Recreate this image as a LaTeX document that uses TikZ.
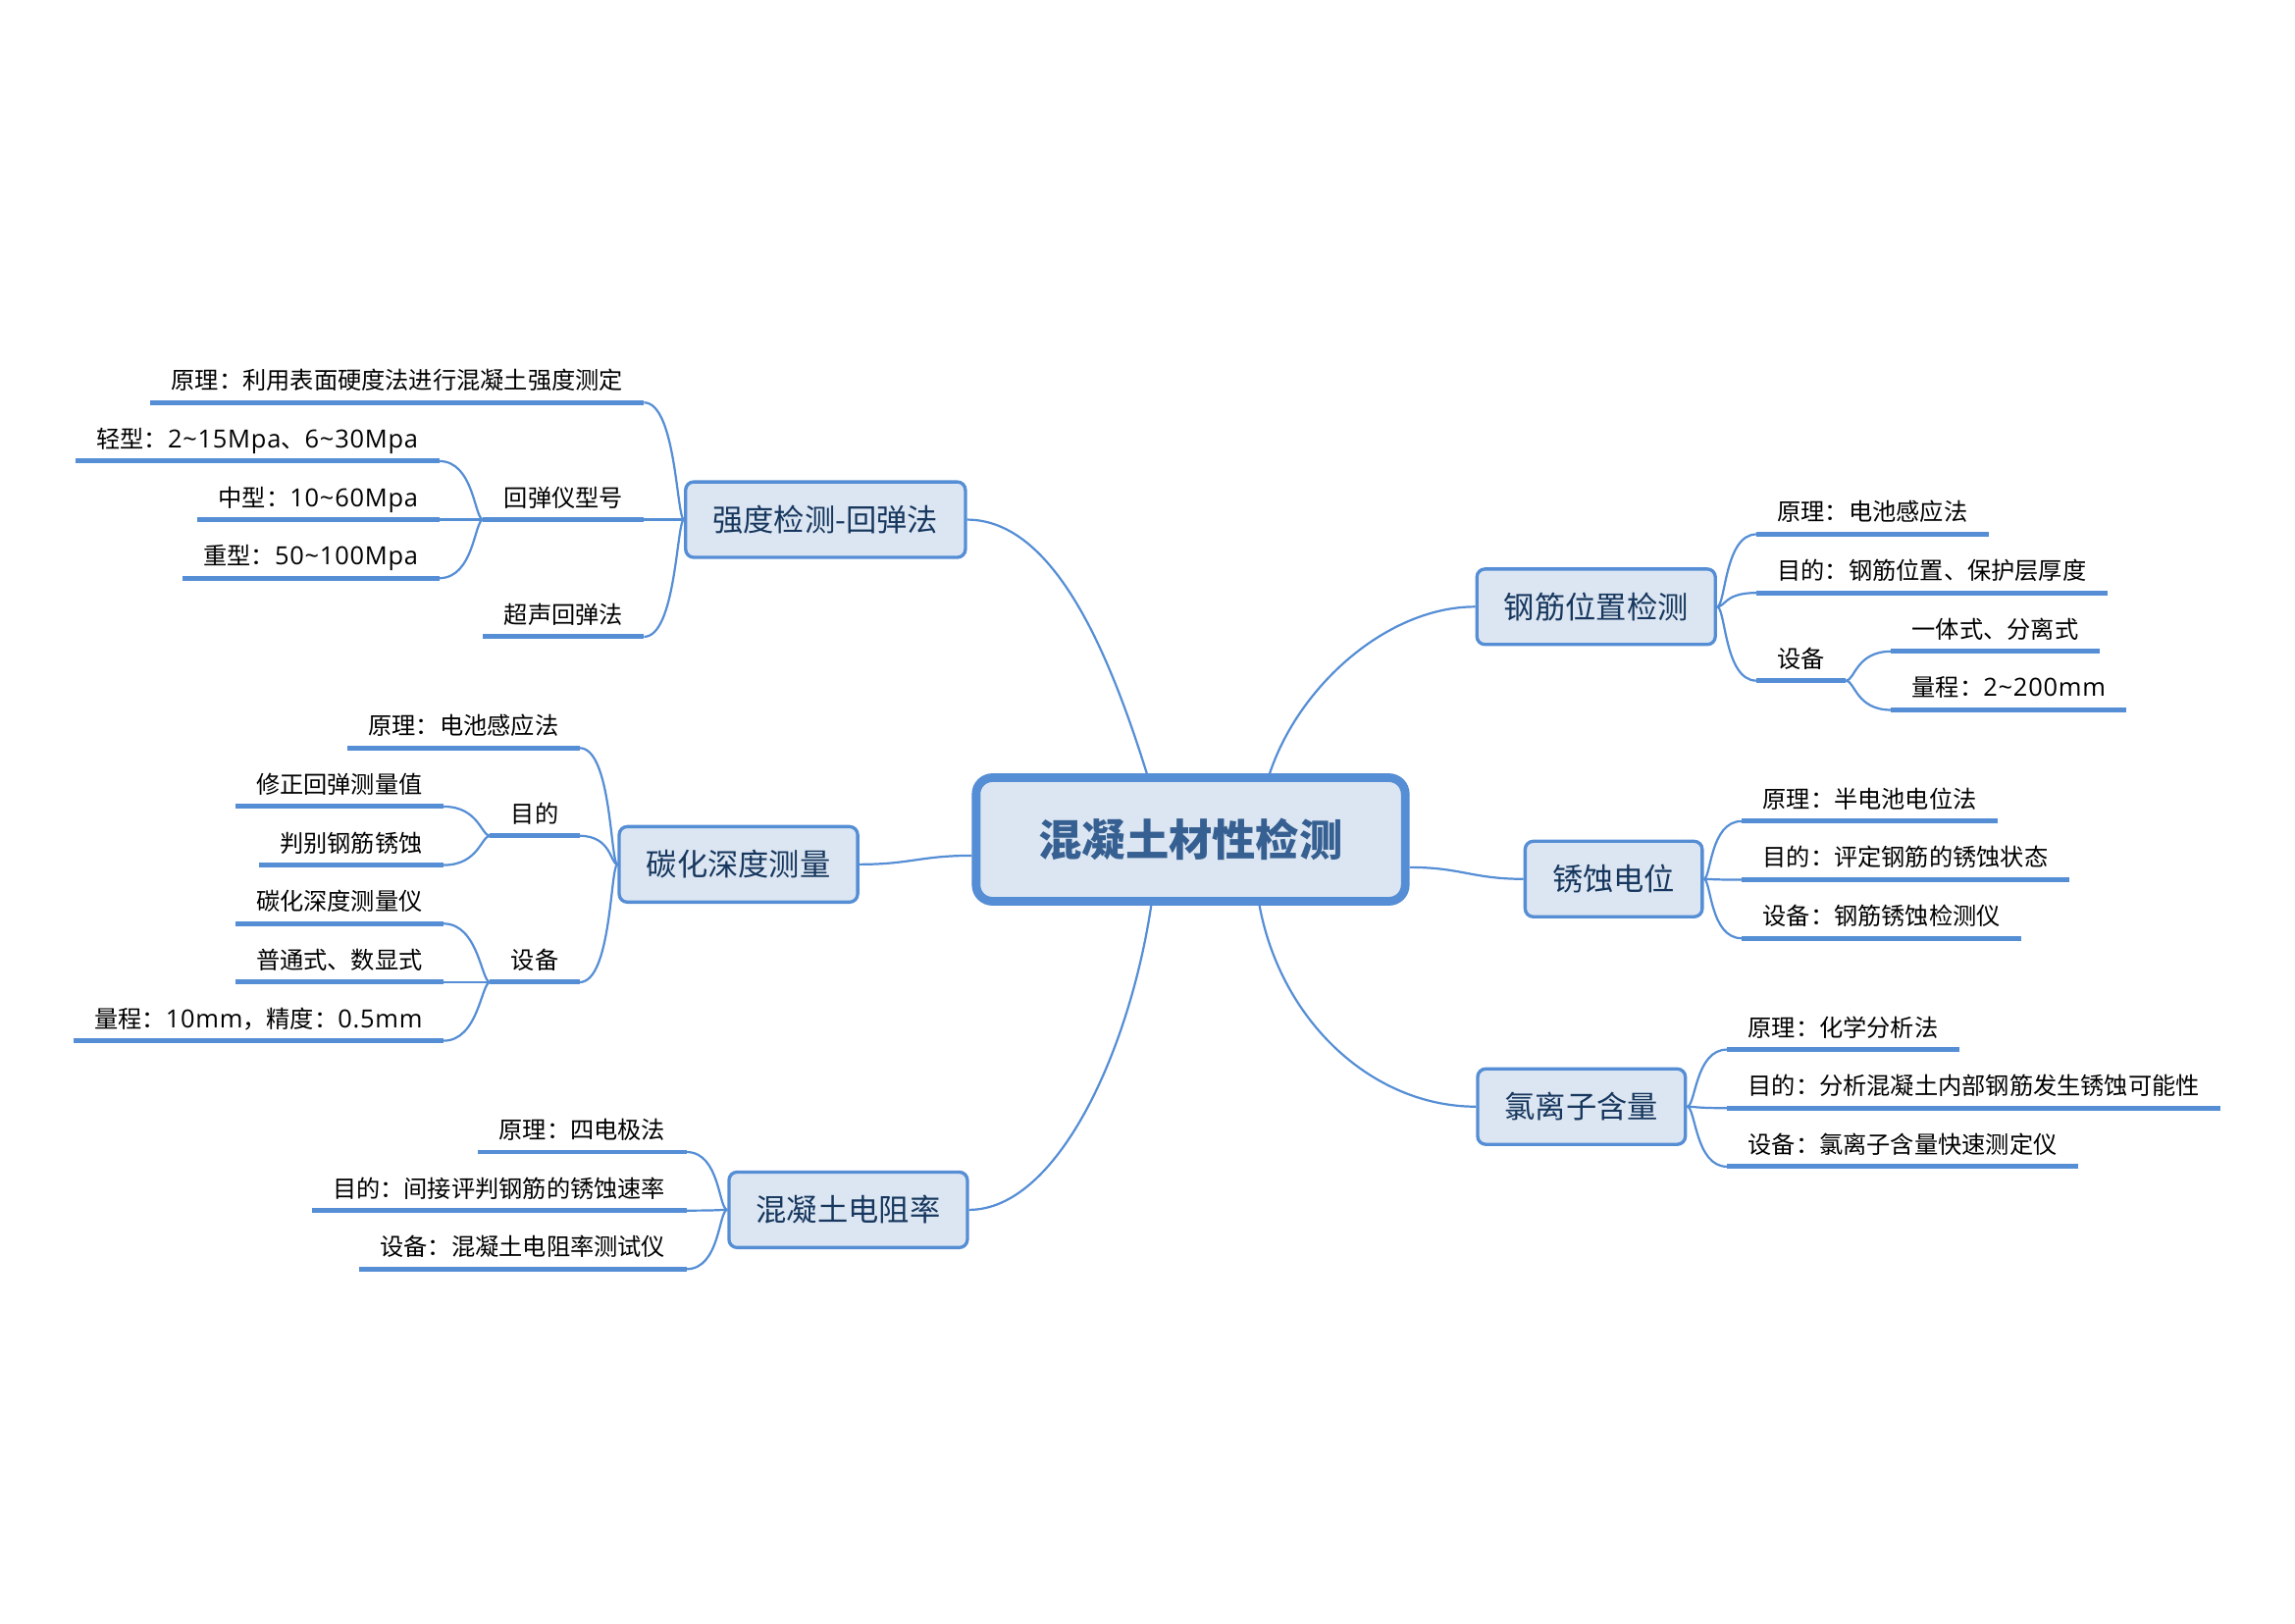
\documentclass[tikz,border=0pt]{standalone}
\usepackage{fontspec}
\setmainfont{Noto Sans CJK SC}
\newfontfamily\lat{Open Sans}[Scale=1.05, LetterSpace=3]
\usepackage{xcolor}
\usetikzlibrary{calc}
\definecolor{lnb}{HTML}{558ED5}
\definecolor{bxf}{HTML}{DCE6F2}
\definecolor{ttl}{HTML}{376092}
\definecolor{brt}{HTML}{17375E}

\begin{document}
\begin{tikzpicture}[x=0.18941mm, y=0.18941mm,
    link/.style={draw=lnb, line width=0.8pt},
    uline/.style={draw=lnb, line width=1.8pt},
    root/.style={draw=lnb, fill=bxf, line width=3.2pt, rounded corners=6pt,
      minimum width=158pt, minimum height=45.5pt, text=ttl,
      font=\fontsize{16}{19}\selectfont\bfseries, text height=14pt, text depth=2pt},
    topic/.style={draw=lnb, fill=bxf, line width=1.2pt, rounded corners=3pt,
      minimum height=27.8pt, inner xsep=10pt, text=brt,
      font=\fontsize{11.3}{13}\selectfont, text height=9.9pt, text depth=1.4pt},
    leaf/.style={inner xsep=2.65mm, inner ysep=3.6pt, text height=7.7pt, text depth=1.1pt,
      font=\fontsize{8.75}{10}\selectfont}]
  \useasboundingbox (0,0) rectangle (1568,-1109);

  \node[root] (ctr) at (813.5,-573.5) {混凝土材性检测};
  \node[topic] (A) at (564,-355) {强度检测-回弹法};
  \node[topic] (B) at (504.5,-590.5) {碳化深度测量};
  \node[topic] (C) at (579.5,-826.5) {混凝土电阻率};
  \node[topic] (D) at (1090.5,-414.5) {钢筋位置检测};
  \node[topic] (E) at (1102.5,-600.5) {锈蚀电位};
  \node[topic] (F) at (1080.5,-756) {氯离子含量};

  % main branches out of the centre box
  \draw[link] ($(ctr.north)+(-30,0)$) .. controls +(-25,80) and +(60,0) .. (A.east);
  \draw[link] ($(ctr.west)+(0,-11)$) .. controls +(-35,0) and +(35,0) .. (B.east);
  \draw[link] ($(ctr.south)+(-27,0)$) .. controls +(-15,-100) and +(60,0) .. (C.east);
  \draw[link] ($(ctr.north)+(54,0)$) .. controls +(20,60) and +(-60,0) .. (D.west);
  \draw[link] ($(ctr.east)+(0,-19)$) .. controls +(35,0) and +(-35,0) .. (E.west);
  \draw[link] ($(ctr.south)+(47,0)$) .. controls +(15,-80) and +(-70,0) .. (F.west);

  % A: rebound hammer
  \node[leaf, anchor=south east] (a1) at (440,-275) {原理：利用表面硬度法进行混凝土强度测定};
  \node[leaf, anchor=south east] (a2) at (440,-355) {回弹仪型号};
  \node[leaf, anchor=south east] (a3) at (440,-435) {超声回弹法};
  \node[leaf, anchor=south east] (a21) at (300,-315) {轻型：{\lat 2\textasciitilde15Mpa}、{\lat 6\textasciitilde30Mpa}};
  \node[leaf, anchor=south east] (a22) at (300,-355) {中型：{\lat 10\textasciitilde60Mpa}};
  \node[leaf, anchor=south east] (a23) at (300,-395) {重型：{\lat 50\textasciitilde100Mpa}};
  \foreach \n in {a1,a2,a3}
    \draw[link] (A.west) .. controls +(-5,0) and +(22,0) .. (\n.south east);
  \foreach \n in {a21,a22,a23}
    \draw[link] (a2.south west) .. controls +(-6,0) and +(24,0) .. (\n.south east);

  % B: carbonation depth
  \node[leaf, anchor=south east] (b1) at (396,-511) {原理：电池感应法};
  \node[leaf, anchor=south east] (b2) at (396,-571) {目的};
  \node[leaf, anchor=south east] (b3) at (396,-671) {设备};
  \node[leaf, anchor=south east] (b21) at (303,-551) {修正回弹测量值};
  \node[leaf, anchor=south east] (b22) at (303,-591) {判别钢筋锈蚀};
  \node[leaf, anchor=south east] (b31) at (303,-631) {碳化深度测量仪};
  \node[leaf, anchor=south east] (b32) at (303,-671) {普通式、数显式};
  \node[leaf, anchor=south east] (b33) at (303,-711) {量程：{\lat 10mm}，精度：{\lat 0.5mm}};
  \foreach \n in {b1,b2,b3}
    \draw[link] (B.west) .. controls +(-5,0) and +(22,0) .. (\n.south east);
  \foreach \n in {b21,b22}
    \draw[link] (b2.south west) .. controls +(-6,0) and +(24,0) .. (\n.south east);
  \foreach \n in {b31,b32,b33}
    \draw[link] (b3.south west) .. controls +(-6,0) and +(24,0) .. (\n.south east);

  % C: resistivity
  \node[leaf, anchor=south east] (c1) at (469,-787) {原理：四电极法};
  \node[leaf, anchor=south east] (c2) at (469,-827) {目的：间接评判钢筋的锈蚀速率};
  \node[leaf, anchor=south east] (c3) at (469,-867) {设备：混凝土电阻率测试仪};
  \foreach \n in {c1,c2,c3}
    \draw[link] (C.west) .. controls +(-6,0) and +(23,0) .. (\n.south east);

  % D: rebar location
  \node[leaf, anchor=south west] (d1) at (1200,-365) {原理：电池感应法};
  \node[leaf, anchor=south west] (d2) at (1200,-405) {目的：钢筋位置、保护层厚度};
  \node[leaf, anchor=south west] (d3) at (1200,-465) {设备};
  \node[leaf, anchor=south west] (d31) at (1292,-445) {一体式、分离式};
  \node[leaf, anchor=south west] (d32) at (1292,-485) {量程：{\lat 2\textasciitilde200mm}};
  \foreach \n in {d1,d2,d3}
    \draw[link] (D.east) .. controls +(6,0) and +(-22,0) .. (\n.south west);
  \foreach \n in {d31,d32}
    \draw[link] (d3.south east) .. controls +(6,0) and +(-24,0) .. (\n.south west);

  % E: corrosion potential
  \node[leaf, anchor=south west] (e1) at (1190,-561) {原理：半电池电位法};
  \node[leaf, anchor=south west] (e2) at (1190,-601) {目的：评定钢筋的锈蚀状态};
  \node[leaf, anchor=south west] (e3) at (1190,-641) {设备：钢筋锈蚀检测仪};
  \foreach \n in {e1,e2,e3}
    \draw[link] (E.east) .. controls +(5,0) and +(-22,0) .. (\n.south west);

  % F: chloride content
  \node[leaf, anchor=south west] (f1) at (1180,-717) {原理：化学分析法};
  \node[leaf, anchor=south west] (f2) at (1180,-757) {目的：分析混凝土内部钢筋发生锈蚀可能性};
  \node[leaf, anchor=south west] (f3) at (1180,-797) {设备：氯离子含量快速测定仪};
  \foreach \n in {f1,f2,f3}
    \draw[link] (F.east) .. controls +(6,0) and +(-22,0) .. (\n.south west);

  % underlines below every leaf
  \foreach \n in {a1,a2,a3,a21,a22,a23,b1,b2,b3,b21,b22,b31,b32,b33,c1,c2,c3,
                  d1,d2,d3,d31,d32,e1,e2,e3,f1,f2,f3}
    \draw[uline] (\n.south west) -- (\n.south east);
\end{tikzpicture}
\end{document}
